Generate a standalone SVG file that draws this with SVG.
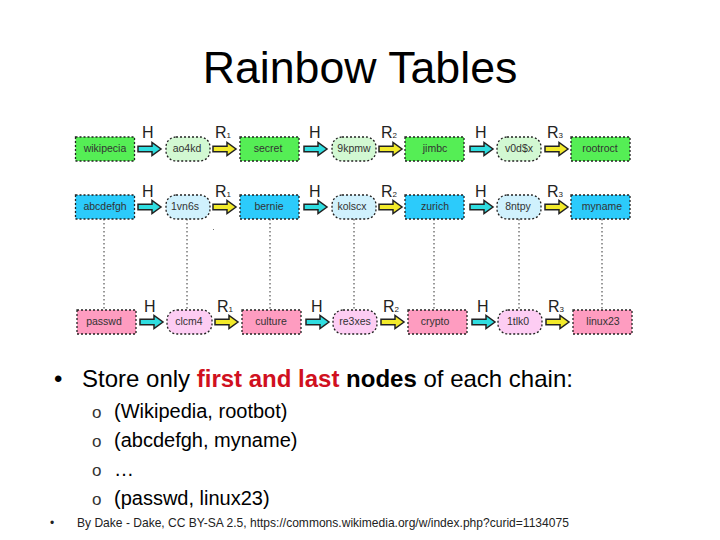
<svg xmlns="http://www.w3.org/2000/svg" width="720" height="540" viewBox="0 0 720 540">
<style>
text{font-family:"Liberation Sans",Arial,sans-serif;fill:#000}
.t{font-size:44.7px;text-anchor:middle}
.b{font-size:24px}
.s{font-size:20px}
.o{font-size:17px;fill:#333}
.f{font-size:12.05px;fill:#222}
.n{font-size:10.5px;text-anchor:middle;fill:#333}
.l{font-size:16px;fill:#222}
.sub{font-size:8px;fill:#222}
.box{stroke:#222;stroke-width:1.3;stroke-dasharray:2 2}
.g1{fill:#55ee55}.g2{fill:#d2f8d2}.c1{fill:#2ccbfb}.c2{fill:#d0f1fd}.p1{fill:#fe9cc0}.p2{fill:#fdcdf3}
.d{stroke:#333;stroke-width:1;stroke-dasharray:1.5 2.5;fill:none}
.ah{fill:#2fdde0;stroke:#222;stroke-width:1.5}
.ar{fill:#f2ea2a;stroke:#222;stroke-width:1.5}
.red{fill:#d01020;font-weight:bold}
.bold{font-weight:bold}
</style>
<defs>
<path id="arrow" d="M0,-2.8H14V-6.5L23,0L14,6.5V2.8H0Z"/>
</defs>
<text class="t" x="360" y="83">Rainbow Tables</text>
<g id="connectors">
<path class="d" d="M104,219V310M187,219V310M270,219V310M354,219V310M434,219V310M519,219V310M602,219V310"/>
<rect x="213" y="229" width="1" height="1" fill="#777"/>
<use href="#arrow" class="ah" x="138" y="149"/><use href="#arrow" class="ar" x="213" y="149"/><use href="#arrow" class="ah" x="304" y="149"/><use href="#arrow" class="ar" x="379" y="149"/><use href="#arrow" class="ah" x="470" y="149"/><use href="#arrow" class="ar" x="545" y="149"/>
<use href="#arrow" class="ah" x="138" y="207"/><use href="#arrow" class="ar" x="213" y="207"/><use href="#arrow" class="ah" x="304" y="207"/><use href="#arrow" class="ar" x="379" y="207"/><use href="#arrow" class="ah" x="470" y="207"/><use href="#arrow" class="ar" x="545" y="207"/>
<use href="#arrow" class="ah" x="140" y="322"/><use href="#arrow" class="ar" x="215" y="322"/><use href="#arrow" class="ah" x="306" y="322"/><use href="#arrow" class="ar" x="381" y="322"/><use href="#arrow" class="ah" x="472" y="322"/><use href="#arrow" class="ar" x="546" y="322"/>
</g>
<g id="labels">
<text class="l" x="142" y="138">H</text><text class="l" x="215" y="138">R<tspan class="sub">1</tspan></text><text class="l" x="309" y="138">H</text><text class="l" x="381" y="138">R<tspan class="sub">2</tspan></text><text class="l" x="475" y="138">H</text><text class="l" x="547" y="138">R<tspan class="sub">3</tspan></text>
<text class="l" x="142" y="197">H</text><text class="l" x="215" y="197">R<tspan class="sub">1</tspan></text><text class="l" x="309" y="197">H</text><text class="l" x="381" y="197">R<tspan class="sub">2</tspan></text><text class="l" x="475" y="197">H</text><text class="l" x="547" y="197">R<tspan class="sub">3</tspan></text>
<text class="l" x="144" y="312">H</text><text class="l" x="217" y="312">R<tspan class="sub">1</tspan></text><text class="l" x="311" y="312">H</text><text class="l" x="383" y="312">R<tspan class="sub">2</tspan></text><text class="l" x="477" y="312">H</text><text class="l" x="548" y="312">R<tspan class="sub">3</tspan></text>
</g>
<g id="n1"><rect class="box g1" x="75.5" y="137" width="59" height="24"/><text class="n" x="105" y="152">wikipecia</text></g>
<g id="n2"><rect class="box g2" x="166" y="137" width="44" height="24" rx="10"/><text class="n" x="187" y="152">ao4kd</text></g>
<g id="n3"><rect class="box g1" x="240" y="137" width="59" height="24"/><text class="n" x="268" y="152">secret</text></g>
<g id="n4"><rect class="box g2" x="332" y="137" width="44" height="24" rx="10"/><text class="n" x="354" y="152">9kpmw</text></g>
<g id="n5"><rect class="box g1" x="405" y="137" width="59" height="24"/><text class="n" x="435" y="152">jimbc</text></g>
<g id="n6"><rect class="box g2" x="497" y="137" width="44" height="24" rx="10"/><text class="n" x="519" y="152">v0d$x</text></g>
<g id="n7"><rect class="box g1" x="571" y="137" width="59" height="24"/><text class="n" x="600" y="152">rootroct</text></g>
<g id="n8"><rect class="box c1" x="75.5" y="195" width="59" height="24"/><text class="n" x="105" y="210">abcdefgh</text></g>
<g id="n9"><rect class="box c2" x="166" y="195" width="44" height="24" rx="10"/><text class="n" x="185" y="210">1vn6s</text></g>
<g id="n10"><rect class="box c1" x="240" y="195" width="59" height="24"/><text class="n" x="269" y="210">bernie</text></g>
<g id="n11"><rect class="box c2" x="332" y="195" width="44" height="24" rx="10"/><text class="n" x="352" y="210">kolscx</text></g>
<g id="n12"><rect class="box c1" x="405" y="195" width="59" height="24"/><text class="n" x="435" y="210">zurich</text></g>
<g id="n13"><rect class="box c2" x="497" y="195" width="44" height="24" rx="10"/><text class="n" x="518" y="210">8ntpy</text></g>
<g id="n14"><rect class="box c1" x="571" y="195" width="59" height="24"/><text class="n" x="602" y="210">myname</text></g>
<g id="n15"><rect class="box p1" x="77" y="310" width="59" height="24"/><text class="n" x="104" y="325">passwd</text></g>
<g id="n16"><rect class="box p2" x="167" y="310" width="45" height="24" rx="10"/><text class="n" x="189" y="325">clcm4</text></g>
<g id="n17"><rect class="box p1" x="242" y="310" width="59" height="24"/><text class="n" x="271" y="325">culture</text></g>
<g id="n18"><rect class="box p2" x="333" y="310" width="44" height="24" rx="10"/><text class="n" x="355" y="325">re3xes</text></g>
<g id="n19"><rect class="box p1" x="408" y="310" width="59" height="24"/><text class="n" x="435" y="325">crypto</text></g>
<g id="n20"><rect class="box p2" x="498" y="310" width="44" height="24" rx="10"/><text class="n" x="518" y="325">1tlk0</text></g>
<g id="n21"><rect class="box p1" x="573" y="310" width="59" height="24"/><text class="n" x="603" y="325">linux23</text></g>
<text class="b" x="54" y="387">•</text>
<text class="b" x="82" y="387">Store only <tspan class="red">first and last</tspan> <tspan class="bold">nodes</tspan> of each chain:</text>
<text class="o" x="92" y="418">o</text><text class="s" x="114" y="418">(Wikipedia, rootbot)</text>
<text class="o" x="92" y="447">o</text><text class="s" x="114" y="447">(abcdefgh, myname)</text>
<text class="o" x="92" y="476">o</text><text class="s" x="114" y="476">…</text>
<text class="o" x="92" y="505">o</text><text class="s" x="114" y="505">(passwd, linux23)</text>
<text class="f" x="50" y="527">•</text>
<text class="f" x="77" y="527">By Dake - Dake, CC BY-SA 2.5, https://commons.wikimedia.org/w/index.php?curid=1134075</text>
</svg>
